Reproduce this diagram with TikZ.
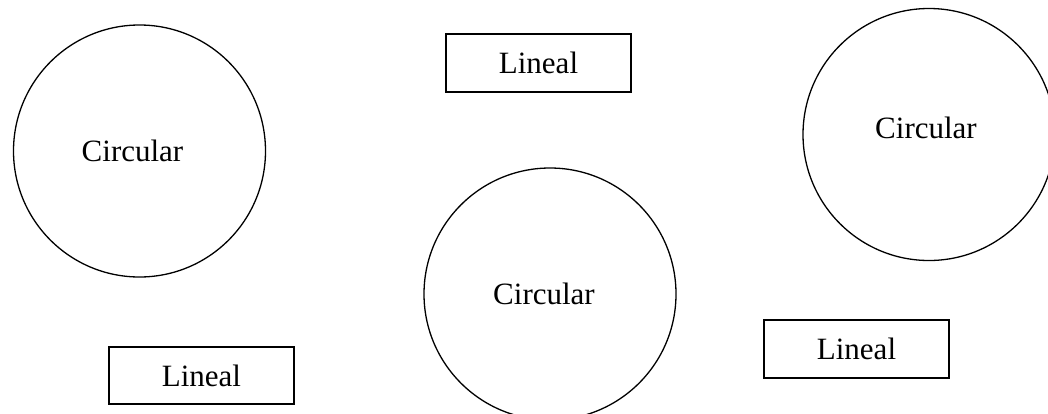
\documentclass[tikz,border=0pt]{standalone}
\usepackage{fontspec}
\setmainfont{Liberation Serif}
\usetikzlibrary{positioning}
\def\circsize{252pt}

\tikzset{
  circshape/.style={circle,draw=black,line width=1.3pt,minimum size=\circsize,
    inner sep=0pt,font=\fontsize{31}{36}\selectfont},
  linealbox/.style={rectangle,draw=black,line width=1.3pt,minimum width=185pt,
    minimum height=58pt,inner sep=0pt,font=\fontsize{31}{36}\selectfont}
}

\begin{document}
\begin{tikzpicture}[x=1pt,y=-1pt]
\useasboundingbox (0,0) rectangle (1048,413);
\clip (0,0) rectangle (1048,413);

% circles
\node[circshape] (circleft) at (139.5,151) {\raisebox{-8pt}{\hspace*{-14pt}Circular}};
\node[circshape] (circmid) at (550,294) {\hspace*{-12pt}Circular};
\node[circshape] (circright) at (929,134.5) {\raisebox{14pt}{\hspace*{-6pt}Circular}};

% boxes
\node[linealbox] (lintop) at (538.5,63) {Lineal};
\node[linealbox,minimum height=57pt] (linleft) at (201.5,375.5) {Lineal};
\node[linealbox] (linright) at (856.5,349) {Lineal};
\end{tikzpicture}
\end{document}
